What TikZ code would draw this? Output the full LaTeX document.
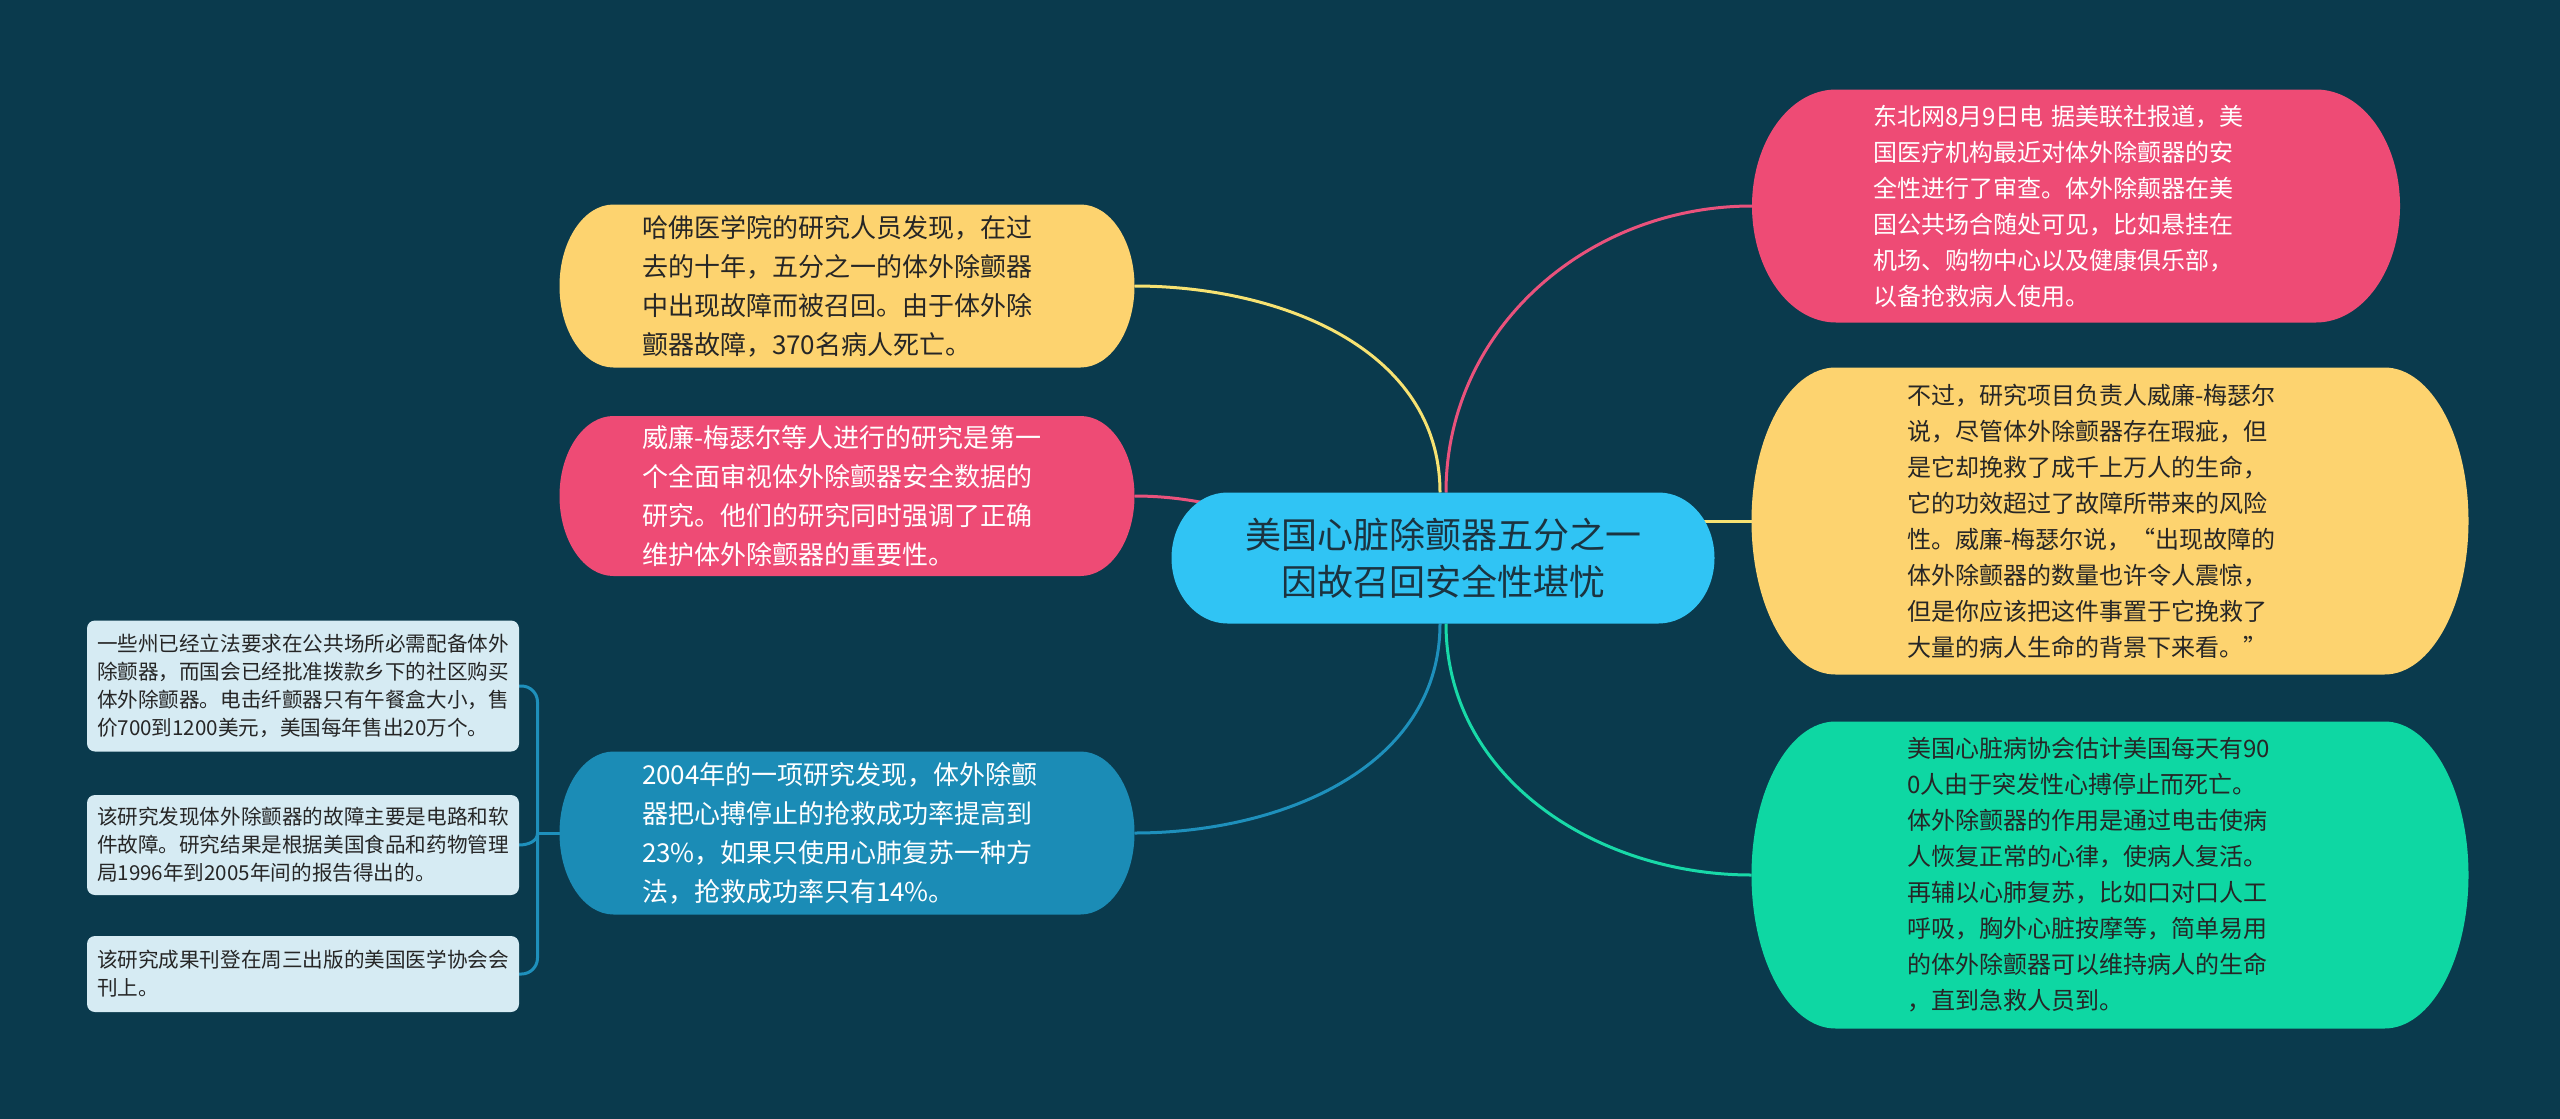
\documentclass[tikz,border=0pt]{standalone}
\usepackage{fontspec}
\setmainfont{Noto Sans CJK SC}
\usetikzlibrary{calc}
\definecolor{bgteal}{HTML}{0A3A4D}
\definecolor{rootblue}{HTML}{30C4F4}
\definecolor{mapyellow}{HTML}{FDD36F}
\definecolor{mappink}{HTML}{EE4B75}
\definecolor{mapblue}{HTML}{1B8CB6}
\definecolor{mapgreen}{HTML}{0ED7A3}
\definecolor{notebox}{HTML}{D6EBF3}
\definecolor{darktext}{HTML}{262626}
\definecolor{roottext}{HTML}{1B3340}
\definecolor{yellowline}{HTML}{F7E272}
\definecolor{pinkline}{HTML}{E9527C}
\definecolor{blueline}{HTML}{1E90BC}
\definecolor{greenline}{HTML}{18D9A8}
\pgfdeclarelayer{bg}
\pgfdeclarelayer{edges}
\pgfdeclarelayer{fills}
\pgfsetlayers{bg,edges,fills,main}
% pill with elliptic ends behind a node
\newcommand{\pillfill}[3]{%
  \fill[#2] let \p1=(#1.north west), \p2=(#1.south east), \n1={0.5*(\y1-\y2)} in
    (\x1+#3,\y1) -- (\x2-#3,\y1)
    arc[start angle=90, end angle=-90, x radius=#3, y radius=\n1]
    -- (\x1+#3,\y2)
    arc[start angle=270, end angle=90, x radius=#3, y radius=\n1] -- cycle;}

\begin{document}
\begin{tikzpicture}[x=0.5pt, y=0.5pt,
    pill/.style={inner sep=0pt, outer sep=0pt, align=left},
    leftpill/.style={pill, text width=205pt, minimum width=287.5pt, minimum height=81.5pt,
        font=\fontsize{13}{19.5}\selectfont},
    rightpill/.style={pill, text width=203pt, minimum width=358.5pt, minimum height=153.5pt,
        font=\fontsize{12}{18}\selectfont},
    smallnote/.style={fill=notebox, rounded corners=4pt, inner sep=0pt, outer sep=0pt,
        minimum width=216pt, align=left, text=darktext,
        font=\fontsize{10.3}{14}\selectfont},
    link/.style={line width=1.5pt}]
        % canvas
        \useasboundingbox (0,0) rectangle (2560,-1119);
        \begin{pgfonlayer}{bg}
            \fill[bgteal] (0,0) rectangle (2560,-1119);
        \end{pgfonlayer}
        % nodes
        \node[pill, align=center, text=roottext, minimum width=271.5pt, minimum height=65.5pt,
            font=\fontsize{18}{23.5}\selectfont] (root) at (1443,-558)
            {美国心脏除颤器五分之一\\因故召回安全性堪忧};
        \node[leftpill, text=darktext] (lyellow) at (847,-286)
            {哈佛医学院的研究人员发现，在过\\去的十年，五分之一的体外除颤器\\中出现故障而被召回。由于体外除\\颤器故障，370名病人死亡。};
        \node[leftpill, text=white, minimum height=80pt] (lpink) at (847,-496)
            {威廉-梅瑟尔等人进行的研究是第一\\个全面审视体外除颤器安全数据的\\研究。他们的研究同时强调了正确\\维护体外除颤器的重要性。};
        \node[leftpill, text=white] (lblue) at (847,-833)
            {2004年的一项研究发现，体外除颤\\器把心搏停止的抢救成功率提高到\\23\%，如果只使用心肺复苏一种方\\法，抢救成功率只有14\%。};
        \node[rightpill, text=white, minimum width=324pt, minimum height=116.5pt] (rpink) at (2076,-206)
            {东北网8月9日电 据美联社报道，美\\国医疗机构最近对体外除颤器的安\\全性进行了审查。体外除颠器在美\\国公共场合随处可见，比如悬挂在\\机场、购物中心以及健康俱乐部，\\以备抢救病人使用。};
        \node[rightpill, text=darktext] (ryellow) at (2110,-521)
            {不过，研究项目负责人威廉-梅瑟尔\\说，尽管体外除颤器存在瑕疵，但\\是它却挽救了成千上万人的生命，\\它的功效超过了故障所带来的风险\\性。威廉-梅瑟尔说，“出现故障的\\体外除颤器的数量也许令人震惊，\\但是你应该把这件事置于它挽救了\\大量的病人生命的背景下来看。”};
        \node[rightpill, text=darktext] (rgreen) at (2110,-875)
            {美国心脏病协会估计美国每天有90\\0人由于突发性心搏停止而死亡。\\体外除颤器的作用是通过电击使病\\人恢复正常的心律，使病人复活。\\再辅以心肺复苏，比如口对口人工\\呼吸，胸外心脏按摩等，简单易用\\的体外除颤器可以维持病人的生命\\，直到急救人员到。};
        \node[smallnote, minimum height=65.5pt] (note1) at (303,-686)
            {一些州已经立法要求在公共场所必需配备体外\\除颤器，而国会已经批准拨款乡下的社区购买\\体外除颤器。电击纤颤器只有午餐盒大小，售\\价700到1200美元，美国每年售出20万个。};
        \node[smallnote, minimum height=50pt] (note2) at (303,-845)
            {该研究发现体外除颤器的故障主要是电路和软\\件故障。研究结果是根据美国食品和药物管理\\局1996年到2005年间的报告得出的。};
        \node[smallnote, minimum height=38pt] (note3) at (303,-974)
            {该研究成果刊登在周三出版的美国医学协会会\\刊上。};
        % fills
        \begin{pgfonlayer}{fills}
            \foreach \nd/\col/\rx in {root/rootblue/28pt, lyellow/mapyellow/27pt,
                lpink/mappink/27pt, lblue/mapblue/27pt, rpink/mappink/42pt,
                ryellow/mapyellow/42pt, rgreen/mapgreen/42pt}
            {
                \pillfill{\nd}{\col}{\rx}
            }
        \end{pgfonlayer}
        % links
        \begin{pgfonlayer}{edges}
            \draw[link, yellowline] (lyellow.east) to[out=0, in=90] ([xshift=-1.5pt]root.north);
            \draw[link, pinkline] (lpink.east) to[out=0, in=180] (root.center);
            \draw[link, blueline] (lblue.east) to[out=0, in=-90] ([xshift=-1.5pt]root.south);
            \draw[link, pinkline] ([xshift=1.5pt]root.north) to[out=90, in=180] (rpink.west);
            \draw[link, yellowline] (root.center |- ryellow.west) -- (ryellow.west);
            \draw[link, greenline] ([xshift=1.5pt]root.south) to[out=-90, in=180] (rgreen.west);
            % bracket
            \coordinate (fork) at ($(lblue.west)+(-22,0)$);
            \draw[link, blueline] (lblue.west) -- (fork);
            \draw[link, blueline, rounded corners=8pt] (note1.east) -| (fork) |- (note3.east);
            \draw[link, blueline] (fork) to[out=-90, in=0] (note2.east);
        \end{pgfonlayer}
    \end{tikzpicture}
\end{document}
